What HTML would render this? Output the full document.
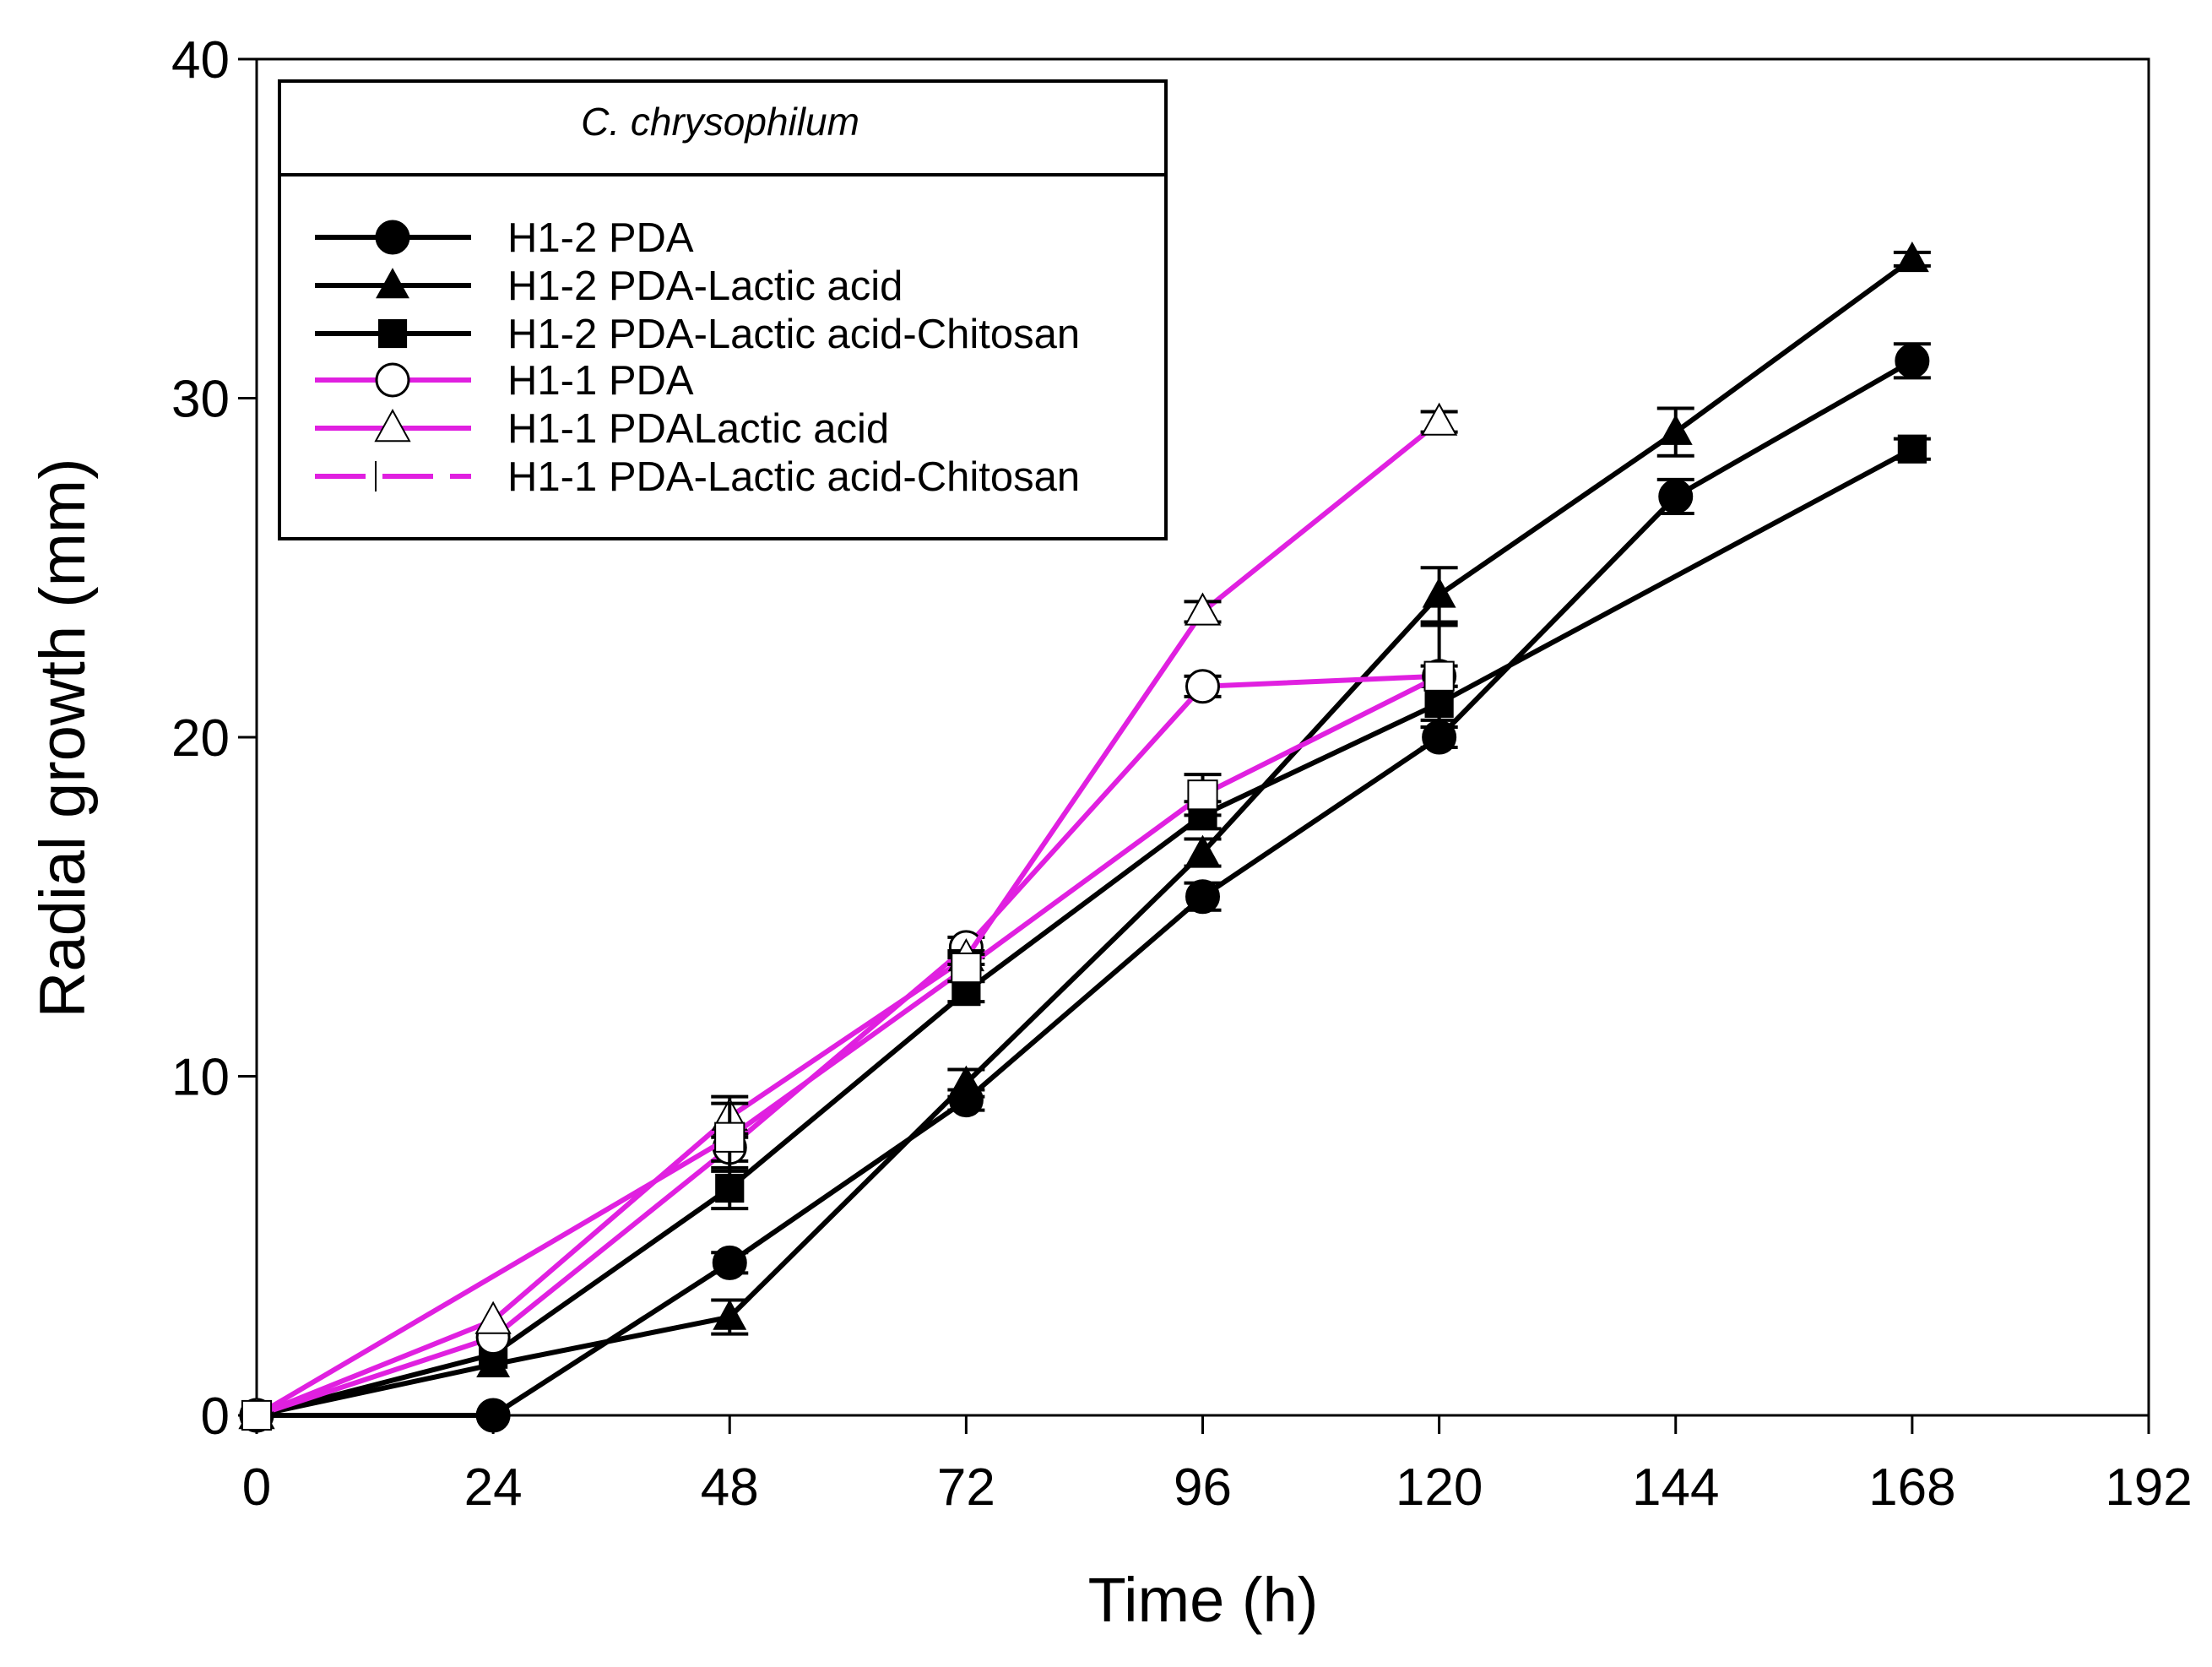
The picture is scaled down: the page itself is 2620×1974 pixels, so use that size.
<!DOCTYPE html>
<html><head><meta charset="utf-8"><style>
html,body{margin:0;padding:0;background:#fff;}
svg{display:block;font-family:"Liberation Sans",Arial,sans-serif;}
</style></head><body>
<svg id="chart" width="2620" height="1974" viewBox="0 0 2620 1974">
<g id="axes"></g>
<g id="series"></g>
<g id="legend"></g>
<text x="100" y="874" font-size="76" text-anchor="middle" transform="rotate(-90 100 874)">Radial growth (mm)</text>
<text x="1425" y="1920" font-size="74" text-anchor="middle">Time (h)</text>
</svg>
<script>
const xTicks = [0,24,48,72,96,120,144,168,192];
const yTicks = [0,10,20,30,40];
const times = [0,24,48,72,96,120,144,168];
const h12PDA = [0,0,4.5,9.3,15.3,20,27.1,31.1];
const h12PDAErr = [0,0,0.3,0.3,0.4,0.3,0.5,0.5];
const h12Lactic = [0,1.5,2.9,9.8,16.6,24.2,29.0,34.1];
const h12LacticErr = [0,0,0.5,0.4,0.4,0.8,0.7,0.2];
const h12Chit = [0,1.8,6.7,12.5,17.7,21.0,null,28.5];
const h12ChitErr = [0,0,0.6,0.3,0.4,0.5,0,0.3];
const h11PDA = [0,2.3,7.9,13.8,21.5,21.8,null,null];
const h11PDAErr = [0,0,0.4,0.3,0.3,0.3,0,0];
const h11Lactic = [0,2.8,8.8,13.5,23.7,29.3,null,null];
const h11LacticErr = [0,0,0.6,0.2,0.3,0.3,0,0];
const h11Chit = [0,null,8.2,13.2,18.3,21.8,null,null];
const h11ChitErr = [0,0,1.0,0.4,0.6,1.5,0,0];
const legendLabels = ["H1-2 PDA","H1-2 PDA-Lactic acid","H1-2 PDA-Lactic acid-Chitosan","H1-1 PDA","H1-1 PDALactic acid","H1-1 PDA-Lactic acid-Chitosan"];

const NS="http://www.w3.org/2000/svg";
const L=304,R=2545,T=70,B=1676;
const xs=v=>L+(v-0)/(192-0)*(R-L);
const ys=v=>B-(v-0)/(40-0)*(B-T);
function mk(tag,attrs,parent){const e=document.createElementNS(NS,tag);for(const k in attrs)e.setAttribute(k,attrs[k]);parent.appendChild(e);return e;}
const axes=document.getElementById('axes');
let r=mk('rect',{x:L,y:T,width:R-L,height:B-T,fill:'none',stroke:'#000','stroke-width':3},axes);


xTicks.forEach(t=>{
  let l=mk('line',{x1:xs(t),x2:xs(t),y1:B,y2:B+22,stroke:'#000','stroke-width':3},axes);
  
  
  let tx=mk('text',{x:xs(t),y:B+106,'font-size':62,'text-anchor':'middle'},axes);tx.textContent=t;
  
  
});
yTicks.forEach(t=>{
  let l=mk('line',{x1:L-22,x2:L,y1:ys(t),y2:ys(t),stroke:'#000','stroke-width':3},axes);
  
  
  let tx=mk('text',{x:L-32,y:ys(t)+22,'font-size':62,'text-anchor':'end'},axes);tx.textContent=t;
  
  
});
const MAG='#e020e0';
const defs=[
 {name:'h1-2-pda',vals:h12PDA,err:h12PDAErr,color:'#000',marker:'circle',fill:'#000'},
 {name:'h1-2-lactic',vals:h12Lactic,err:h12LacticErr,color:'#000',marker:'triangle',fill:'#000'},
 {name:'h1-2-chitosan',vals:h12Chit,err:h12ChitErr,color:'#000',marker:'square',fill:'#000'},
 {name:'h1-1-pda',vals:h11PDA,err:h11PDAErr,color:MAG,marker:'circle',fill:'#fff'},
 {name:'h1-1-lactic',vals:h11Lactic,err:h11LacticErr,color:MAG,marker:'triangle',fill:'#fff'},
 {name:'h1-1-chitosan',vals:h11Chit,err:h11ChitErr,color:MAG,marker:'square',fill:'#fff'}
];
function drawMarker(g,type,cx,cy,fill,s){
  let m;
  if(type==='circle') m=mk('circle',{cx:cx,cy:cy,r:s,fill:fill,stroke:'#000','stroke-width':3},g);
  else if(type==='square') m=mk('rect',{x:cx-s*0.9,y:cy-s*0.9,width:s*1.8,height:s*1.8,fill:fill,stroke:fill==='#fff'?'#000':'none','stroke-width':2},g);
  else m=mk('polygon',{points:`${cx},${cy-s*1.1} ${cx-s*1.05},${cy+s*0.8} ${cx+s*1.05},${cy+s*0.8}`,fill:fill,stroke:fill==='#fff'?'#000':'none','stroke-width':2},g);
  return m;
}
const sg=document.getElementById('series');
defs.forEach(d=>{
  const g=mk('g',{},sg);
  
  
  const pts=[];times.forEach((t,i)=>{if(d.vals[i]!==null)pts.push([xs(t),ys(d.vals[i]),i]);});
  let p=mk('polyline',{points:pts.map(q=>q[0]+','+q[1]).join(' '),fill:'none',stroke:d.color,'stroke-width':6},g);
  
  
  pts.forEach(q=>{
    const e=d.err[q[2]];
    if(e>0){
      const y1=ys(d.vals[q[2]]+e),y2=ys(d.vals[q[2]]-e);
      let eb=mk('path',{d:`M${q[0]},${y1}V${y2}M${q[0]-22},${y1}H${q[0]+22}M${q[0]-22},${y2}H${q[0]+22}`,stroke:'#000','stroke-width':4,fill:'none'},g);
      
      
    }
    let m=drawMarker(g,d.marker,q[0],q[1],d.fill,19);
    
    
  });
});
const lg=document.getElementById('legend');
let box=mk('rect',{x:331,y:96,width:1050,height:542,fill:'#fff',stroke:'#000','stroke-width':4},lg);


let sep=mk('line',{x1:331,x2:1381,y1:207,y2:207,stroke:'#000','stroke-width':4},lg);


let title=mk('text',{x:853,y:160,'font-size':46,'font-style':'italic','text-anchor':'middle'},lg);
title.textContent='C. chrysophilum';


const ly=[281,338,395,450,507,564];
defs.forEach((d,i)=>{
  const g=mk('g',{},lg);
  
  
  mk('line',{x1:373,x2:558,y1:ly[i],y2:ly[i],stroke:d.color,'stroke-width':6,'stroke-dasharray':i===5?'60,20':'none'},g);
  if(i===5){mk('path',{d:`M445,${ly[i]-18}V${ly[i]+18}`,stroke:'#000','stroke-width':2},g);}
  else drawMarker(g,d.marker,465,ly[i],d.fill,19);
  const t=mk('text',{x:601,y:ly[i]+17,'font-size':49},g);t.textContent=legendLabels[i];
});
</script>
</body></html>
